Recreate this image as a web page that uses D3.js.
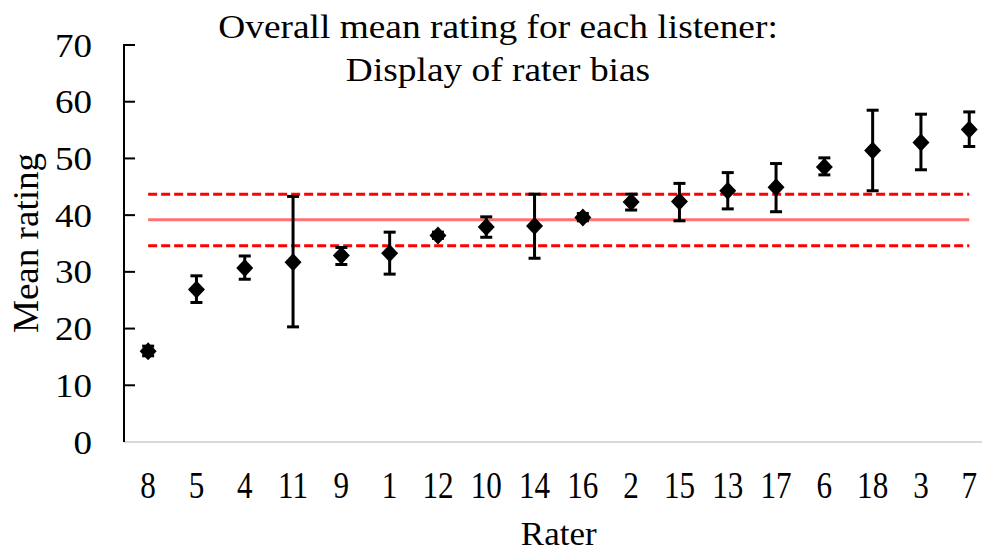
<!DOCTYPE html>
<html>
<head>
<meta charset="utf-8">
<script src="https://cdn.jsdelivr.net/npm/d3@7"></script>
<style>
	body { margin: 0; background: #fff; }
	svg text { font-family: 'Liberation Serif', 'Times New Roman', serif; fill: #000; }
</style>
</head>
<body>
<svg id="chart" width="982" height="552"></svg>
<script>
const raters = ['8', '5', '4', '11', '9', '1', '12', '10', '14', '16', '2', '15', '13', '17', '6', '18', '3', '7'];
const meanRating = [16.0, 26.9, 30.7, 31.7, 32.9, 33.3, 36.4, 37.9, 38.1, 39.6, 42.3, 42.4, 44.3, 44.9, 48.5, 51.4, 52.8, 55.1];
const errLow = [15.2, 24.6, 28.7, 20.3, 31.3, 29.6, 35.9, 36.1, 32.4, 39.0, 40.9, 39.0, 41.1, 40.6, 47.1, 44.3, 48.0, 52.1];
const errHigh = [16.9, 29.3, 32.8, 43.3, 34.3, 37.0, 37.0, 39.7, 43.7, 40.3, 43.7, 45.6, 47.5, 49.1, 50.1, 58.5, 57.8, 58.2];
const yTicks = [0, 10, 20, 30, 40, 50, 60, 70];
const overallMean = 39.2;
const meanBand = [34.6, 43.7];

const svg = d3.select('#chart');

const x = d3.scaleBand()
	.domain(raters)
	.range([124, 993.4]);

const y = d3.scaleLinear()
	.domain([0, 70])
	.range([442, 45]);

const cx = d => x(d) + x.bandwidth() / 2;

// title (source text is slightly stretched horizontally)
const title = svg.append('g')
	.attr('transform', 'translate(498,0) scale(1.1,1)');
title.append('text')
	.attr('y', 38)
	.attr('text-anchor', 'middle')
	.style('font-size', '34px')
	.text('Overall mean rating for each listener:');
title.append('text')
	.attr('y', 81)
	.attr('text-anchor', 'middle')
	.style('font-size', '34px')
	.text('Display of rater bias');

// x axis (light grey)
svg.append('line')
	.attr('x1', 124).attr('x2', 982)
	.attr('y1', y(0)).attr('y2', y(0))
	.attr('stroke', '#d9d9d9')
	.attr('stroke-width', 2);

// y axis
const yAxis = svg.append('g');
yAxis.append('line')
	.attr('x1', 124).attr('x2', 124)
	.attr('y1', y(70)).attr('y2', y(0))
	.attr('stroke', '#000')
	.attr('stroke-width', 2);

yAxis.selectAll('line.tick')
	.data(yTicks.filter(d => d > 0))
	.enter().append('line')
	.attr('class', 'tick')
	.attr('x1', 123).attr('x2', 135)
	.attr('y1', d => y(d)).attr('y2', d => y(d))
	.attr('stroke', '#000')
	.attr('stroke-width', 2);

yAxis.selectAll('text')
	.data(yTicks)
	.enter().append('text')
	.attr('text-anchor', 'end')
	.attr('dy', '0.34em')
	.attr('transform', d => `translate(92,${y(d)}) scale(1.09,1)`)
	.style('font-size', '34px')
	.text(d => d);

svg.append('text')
	.attr('transform', 'translate(38,243) rotate(-90) scale(1.06,1)')
	.attr('text-anchor', 'middle')
	.style('font-size', '35px')
	.text('Mean rating');

// x tick labels (source text is condensed)
svg.selectAll('text.xlabel')
	.data(raters)
	.enter().append('text')
	.attr('class', 'xlabel')
	.attr('text-anchor', 'middle')
	.attr('transform', d => `translate(${cx(d)},498) scale(0.82,1)`)
	.style('font-size', '38px')
	.text(d => d);

svg.append('text')
	.attr('transform', `translate(${(x.range()[0] + x.range()[1]) / 2},545) scale(1.06,1)`)
	.attr('text-anchor', 'middle')
	.style('font-size', '33px')
	.text('Rater');

// reference lines
const xStart = cx(raters[0]);
const xEnd = cx(raters[raters.length - 1]);

svg.append('line')
	.attr('x1', xStart).attr('x2', xEnd)
	.attr('y1', y(overallMean)).attr('y2', y(overallMean))
	.attr('stroke', '#ff7070')
	.attr('stroke-width', 3);

svg.selectAll('line.band')
	.data(meanBand)
	.enter().append('line')
	.attr('class', 'band')
	.attr('x1', xStart).attr('x2', xEnd)
	.attr('y1', d => y(d)).attr('y2', d => y(d))
	.attr('stroke', '#ff0000')
	.attr('stroke-width', 3)
	.attr('stroke-dasharray', '9,4');

// error bars
const bars = svg.selectAll('g.err')
	.data(raters)
	.enter().append('g')
	.attr('class', 'err')
	.attr('stroke', '#000')
	.attr('stroke-width', 3);

bars.append('line')
	.attr('x1', d => cx(d)).attr('x2', d => cx(d))
	.attr('y1', (d, i) => y(errLow[i])).attr('y2', (d, i) => y(errHigh[i]));

bars.append('line')
	.attr('x1', d => cx(d) - 6).attr('x2', d => cx(d) + 6)
	.attr('y1', (d, i) => y(errLow[i])).attr('y2', (d, i) => y(errLow[i]));

bars.append('line')
	.attr('x1', d => cx(d) - 6).attr('x2', d => cx(d) + 6)
	.attr('y1', (d, i) => y(errHigh[i])).attr('y2', (d, i) => y(errHigh[i]));

// diamond markers
svg.selectAll('path.marker')
	.data(raters)
	.enter().append('path')
	.attr('class', 'marker')
	.attr('d', 'M0,-9L8.5,0L0,9L-8.5,0Z')
	.attr('transform', (d, i) => `translate(${cx(d)},${y(meanRating[i])})`)
	.attr('fill', '#000');
</script>
</body>
</html>
